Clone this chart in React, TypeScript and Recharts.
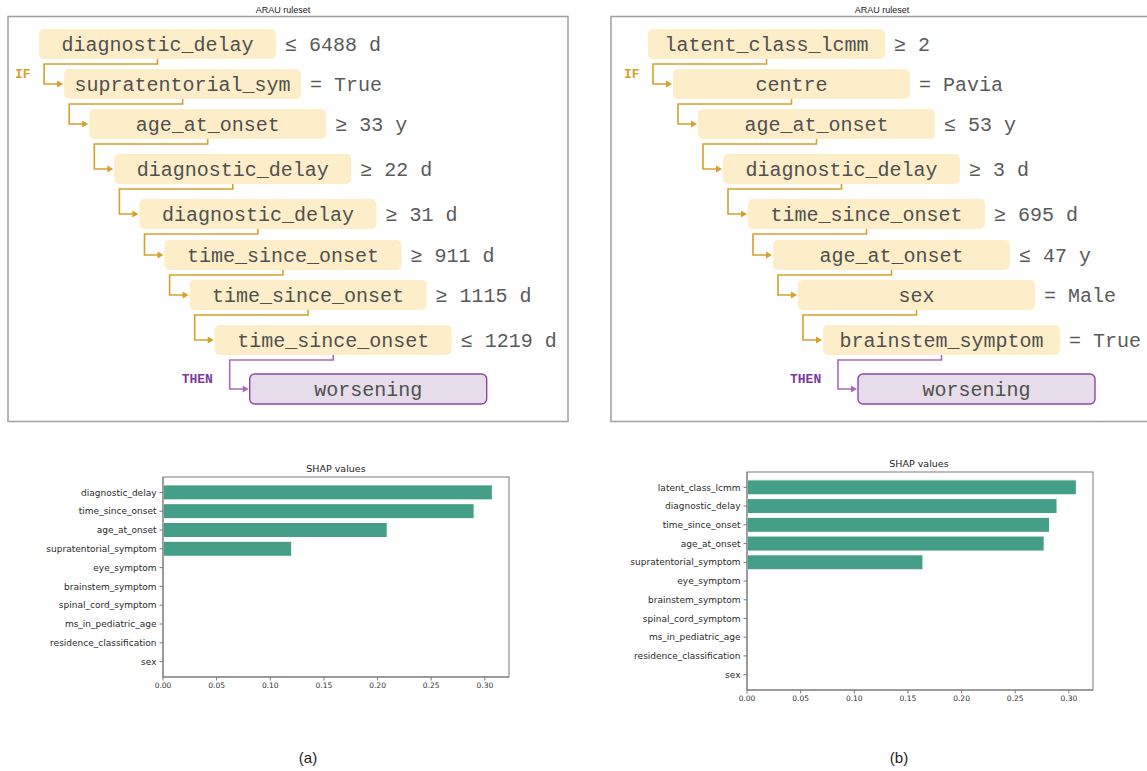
import React from "react";
import { Bar, BarChart, XAxis, YAxis } from "recharts";

// rule sets (panel a / panel b)
const leftRuleFeatures = [
  "diagnostic_delay",
  "supratentorial_sym",
  "age_at_onset",
  "diagnostic_delay",
  "diagnostic_delay",
  "time_since_onset",
  "time_since_onset",
  "time_since_onset",
];
const leftRuleConditions = ["≤ 6488 d", "= True", "≥ 33 y", "≥ 22 d", "≥ 31 d", "≥ 911 d", "≥ 1115 d", "≤ 1219 d"];

const rightRuleFeatures = [
  "latent_class_lcmm",
  "centre",
  "age_at_onset",
  "diagnostic_delay",
  "time_since_onset",
  "age_at_onset",
  "sex",
  "brainstem_symptom",
];
const rightRuleConditions = ["≥ 2", "= Pavia", "≤ 53 y", "≥ 3 d", "≥ 695 d", "≤ 47 y", "= Male", "= True"];

const ruleOutcome = "worsening";

// SHAP bars
const leftShapFeatures = [
  "diagnostic_delay",
  "time_since_onset",
  "age_at_onset",
  "supratentorial_symptom",
  "eye_symptom",
  "brainstem_symptom",
  "spinal_cord_symptom",
  "ms_in_pediatric_age",
  "residence_classification",
  "sex",
];
const leftShapValues = [0.307, 0.29, 0.209, 0.12, 0, 0, 0, 0, 0, 0];

const rightShapFeatures = [
  "latent_class_lcmm",
  "diagnostic_delay",
  "time_since_onset",
  "age_at_onset",
  "supratentorial_symptom",
  "eye_symptom",
  "brainstem_symptom",
  "spinal_cord_symptom",
  "ms_in_pediatric_age",
  "residence_classification",
  "sex",
];
const rightShapValues = [0.307, 0.289, 0.282, 0.277, 0.164, 0, 0, 0, 0, 0, 0];

const shapTicks = [0, 0.05, 0.1, 0.15, 0.2, 0.25, 0.3];

const GOLD = "#d4a22b";
const PURPLE = "#8e44ad";
const BAR = "#459e87";
const FRAME = "#7a7a7a";
const MONO = "'Liberation Mono', 'DejaVu Sans Mono', monospace";
const SANS = "'DejaVu Sans', sans-serif";

// layout of the rule diagram rows
const ROW_TOPS = [29, 69, 109, 154, 199, 240, 280, 325];
const OUTCOME_TOP = 374;
const BOX_W = 237;
const BOX_H = 30;

function Connector({ x0, y0, x1, y1, color }: { x0: number; y0: number; x1: number; y1: number; color: string }) {
  // from box bottom centre, down a little, left, down, then right into next box
  const yh = y0 + 5;
  const xv = x1 - 20;
  return (
    <g>
      <polyline
        points={`${x0},${y0} ${x0},${yh} ${xv},${yh} ${xv},${y1} ${x1 - 5},${y1}`}
        fill="none"
        stroke={color}
        strokeWidth={1.6}
      />
      <polygon points={`${x1 - 7},${y1 - 3.5} ${x1 - 1},${y1} ${x1 - 7},${y1 + 3.5}`} fill={color} />
    </g>
  );
}

function RulePanel({
  frameX,
  frameW,
  titleX,
  firstLeft,
  step,
  features,
  conditions,
}: {
  frameX: number;
  frameW: number;
  titleX: number;
  firstLeft: number;
  step: number;
  features: string[];
  conditions: string[];
}) {
  const lefts = features.map((_, i) => firstLeft + i * step);
  const lastLeft = lefts[lefts.length - 1];
  const lastTop = ROW_TOPS[ROW_TOPS.length - 1];
  const outLeft = lastLeft + 35;
  return (
    <g>
      <text x={titleX} y={13} textAnchor="middle" fontSize={9} fontFamily="'Liberation Sans', Arial" fill="#222">
        ARAU ruleset
      </text>
      <rect x={frameX} y={16.5} width={frameW} height={405} fill="none" stroke="#a0a0a0" strokeWidth={1.5} />
      <text x={firstLeft - 24} y={78} fontFamily={MONO} fontWeight="bold" fontSize={13} fill={GOLD}>
        IF
      </text>
      {features.map((f, i) => {
        const x = lefts[i];
        const y = ROW_TOPS[i];
        return (
          <g key={i}>
            {i > 0 && (
              <Connector
                x0={lefts[i - 1] + BOX_W / 2}
                y0={ROW_TOPS[i - 1] + BOX_H}
                x1={x}
                y1={y + BOX_H / 2}
                color={GOLD}
              />
            )}
            <rect x={x} y={y} width={BOX_W} height={BOX_H} rx={5} fill="#fdedc9" />
            <text
              x={x + BOX_W / 2}
              y={y + BOX_H / 2 + 1}
              textAnchor="middle"
              dominantBaseline="central"
              fontFamily={MONO}
              fontSize={20}
              fill="#505050"
            >
              {f}
            </text>
            <text
              x={x + BOX_W + 9}
              y={y + BOX_H / 2 + 1}
              dominantBaseline="central"
              fontFamily={MONO}
              fontSize={20}
              fill="#5a5a5a"
            >
              {conditions[i]}
            </text>
          </g>
        );
      })}
      <Connector
        x0={lastLeft + BOX_W / 2}
        y0={lastTop + BOX_H}
        x1={outLeft}
        y1={OUTCOME_TOP + BOX_H / 2}
        color="#a46cc0"
      />
      <text x={outLeft - 68} y={383} fontFamily={MONO} fontWeight="bold" fontSize={13} fill="#7a3aa0">
        THEN
      </text>
      <rect
        x={outLeft}
        y={OUTCOME_TOP}
        width={BOX_W}
        height={BOX_H}
        rx={5}
        fill="#e6dcea"
        stroke={PURPLE}
        strokeWidth={1.4}
      />
      <text
        x={outLeft + BOX_W / 2}
        y={OUTCOME_TOP + BOX_H / 2 + 1}
        textAnchor="middle"
        dominantBaseline="central"
        fontFamily={MONO}
        fontSize={20}
        fill="#505050"
      >
        {ruleOutcome}
      </text>
    </g>
  );
}

function ShapChart({
  features,
  values,
  width,
  height,
  margin,
}: {
  features: string[];
  values: number[];
  width: number;
  height: number;
  margin: { top: number; right: number; bottom: number; left: number };
}) {
  const data = features.map((feature, i) => ({ feature, value: values[i] }));
  return (
    <BarChart width={width} height={height} data={data} layout="vertical" margin={margin} barCategoryGap="10%">
      <XAxis
        type="number"
        dataKey="value"
        domain={[0, 0.3225]}
        ticks={shapTicks}
        allowDataOverflow
        tickFormatter={(v: number) => v.toFixed(2)}
        tick={{ fill: "#333", fontSize: 7.5, fontFamily: SANS }}
        tickSize={3.5}
        tickMargin={2}
        height={20}
        stroke={FRAME}
      />
      <YAxis
        type="category"
        dataKey="feature"
        interval={0}
        width={160}
        tick={{ fill: "#2a2a2a", fontSize: 9, fontFamily: SANS }}
        tickSize={3.5}
        tickMargin={3}
        padding={{ top: 6, bottom: 6 }}
        stroke={FRAME}
      />
      <Bar dataKey="value" fill={BAR} stroke="#ffffff" strokeWidth={1} isAnimationActive={false} />
    </BarChart>
  );
}

export default function App() {
  return (
    <div
      style={{
        position: "absolute",
        left: 0,
        top: 0,
        width: 1147,
        height: 771,
        background: "#fff",
        overflow: "hidden",
      }}
    >
      <svg width={1147} height={771} style={{ position: "absolute", left: 0, top: 0 }}>
        <RulePanel
          frameX={8}
          frameW={560}
          titleX={283}
          firstLeft={39}
          step={25.1}
          features={leftRuleFeatures}
          conditions={leftRuleConditions}
        />
        <RulePanel
          frameX={611}
          frameW={560}
          titleX={882}
          firstLeft={648}
          step={25}
          features={rightRuleFeatures}
          conditions={rightRuleConditions}
        />
        <text x={336} y={472} textAnchor="middle" fontSize={9.5} fontFamily={SANS} fill="#222">
          SHAP values
        </text>
        <text x={919} y={467} textAnchor="middle" fontSize={9.5} fontFamily={SANS} fill="#222">
          SHAP values
        </text>
        {/* matplotlib-style axes boxes around the two plot areas */}
        <rect x={163} y={477} width={346} height={200} fill="none" stroke={FRAME} strokeWidth={1} />
        <rect x={747} y={472} width={346} height={218} fill="none" stroke={FRAME} strokeWidth={1} />
        <text x={308} y={763} textAnchor="middle" fontSize={15} fontFamily="'Liberation Sans', Arial" fill="#222">
          (a)
        </text>
        <text x={899} y={763} textAnchor="middle" fontSize={15} fontFamily="'Liberation Sans', Arial" fill="#222">
          (b)
        </text>
      </svg>
      <div style={{ position: "absolute", left: 0, top: 455 }}>
        <ShapChart
          features={leftShapFeatures}
          values={leftShapValues}
          width={530}
          height={245}
          margin={{ top: 22, right: 21, bottom: 3, left: 3 }}
        />
      </div>
      <div style={{ position: "absolute", left: 580, top: 450 }}>
        <ShapChart
          features={rightShapFeatures}
          values={rightShapValues}
          width={530}
          height={263}
          margin={{ top: 22, right: 17, bottom: 3, left: 7 }}
        />
      </div>
    </div>
  );
}
